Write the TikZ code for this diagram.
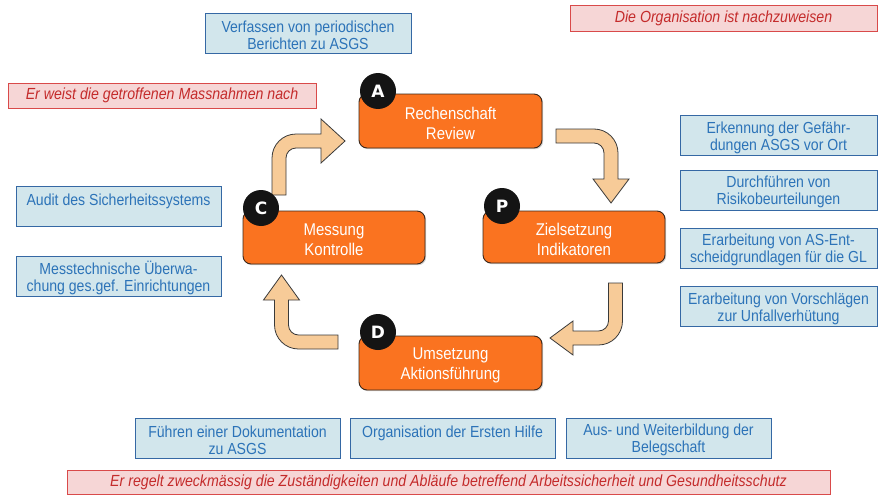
\documentclass[tikz,border=0pt]{standalone}
\usepackage{fontspec}
\setmainfont{Liberation Sans}[FakeStretch=0.88]
\newfontfamily\circfont{DejaVu Sans}[BoldFont={DejaVu Sans Bold}]
\usetikzlibrary{shadows}
\definecolor{orfill}{HTML}{FA7320}
\definecolor{ordraw}{HTML}{3A281C}
\definecolor{arfill}{HTML}{F7CB98}
\definecolor{ardraw}{HTML}{3A3A3A}
\definecolor{blfill}{HTML}{D2E6EC}
\definecolor{bldraw}{HTML}{3568A4}
\definecolor{bltext}{HTML}{2C73B8}
\definecolor{rdfill}{HTML}{F6D6D6}
\definecolor{rddraw}{HTML}{D94A4A}
\definecolor{rdtext}{HTML}{C42B2B}
\tikzset{
  orbox/.style={draw=ordraw, line width=0.9pt, fill=orfill, rounded corners=8pt,
    inner sep=0pt,
    drop shadow={shadow xshift=1.2pt, shadow yshift=-1.2pt, opacity=0.35}},
  ortxt/.style={text=white, align=center, inner sep=0pt, yshift=-2.5pt,
    font=\fontsize{17}{20}\selectfont},
  letcirc/.style={circle, fill=black!92, minimum size=36pt, inner sep=0pt,
    text=white, font=\circfont\bfseries\fontsize{17}{17}\selectfont},
  blbox/.style={draw=bldraw, line width=0.9pt, fill=blfill, inner sep=0pt},
  bltxt/.style={text=bltext, align=center, inner sep=0pt, yshift=-2pt,
    font=\fontsize{16}{17}\selectfont},
  rdbox/.style={draw=rddraw, line width=0.9pt, fill=rdfill, inner sep=0pt,
    text=rdtext, font=\itshape\fontsize{16.1}{17}\selectfont},
  bendarrow/.style={draw=ardraw, line width=0.8pt, fill=arfill, line join=miter},
}
\begin{document}
\begin{tikzpicture}[x=1pt, y=-1pt]
\useasboundingbox (0,0) rectangle (878,495);
\fill[white] (0,0) rectangle (878,495);

% red boxes
\node[rdbox, minimum width=307pt, minimum height=26pt] (rtop) at (723.5,18) {Die Organisation ist nachzuweisen};
\node[rdbox, minimum width=308pt, minimum height=25pt] (rleft) at (162,95.5) {Er weist die getroffenen Massnahmen nach};
\node[rdbox, minimum width=763pt, minimum height=24.5pt] (rbot) at (448.5,482.25) {Er regelt zweckm\"assig die Zust\"andigkeiten und Abl\"aufe betreffend Arbeitssicherheit und Gesundheitsschutz};

% blue boxes
\node[blbox, minimum width=206pt, minimum height=40pt] (b1) at (308,33) {};
\node[bltxt] (t1) at (b1) {Verfassen von periodischen\\Berichten zu ASGS};

\node[blbox, minimum width=197pt, minimum height=40pt] (r1) at (778.5,135.7) {};
\node[bltxt] (tr1) at (r1) {Erkennung der Gef\"ahr-\\dungen ASGS vor Ort};
\node[blbox, minimum width=197pt, minimum height=40pt] (r2) at (778.5,190) {};
\node[bltxt] (tr2) at (r2) {Durchf\"uhren von\\Risikobeurteilungen};
\node[blbox, minimum width=197pt, minimum height=40pt] (r3) at (778.5,248.3) {};
\node[bltxt] (tr3) at (r3) {Erarbeitung von AS-Ent-\\scheidgrundlagen f\"ur die GL};
\node[blbox, minimum width=197pt, minimum height=40pt] (r4) at (778.5,306.7) {};
\node[bltxt] (tr4) at (r4) {Erarbeitung von Vorschl\"agen\\zur Unfallverh\"utung};

\node[blbox, minimum width=205pt, minimum height=40pt] (l1) at (118.5,206) {};
\node[bltxt] (tl1) at (118.5,199) {Audit des Sicherheitssystems};
\node[blbox, minimum width=205pt, minimum height=40pt] (l2) at (118.5,276) {};
\node[bltxt] (tl2) at (l2) {Messtechnische \"Uberwa-\\chung ges.gef. Einrichtungen};

\node[blbox, minimum width=205pt, minimum height=40pt] (u1) at (237.5,438) {};
\node[bltxt] (tu1) at (u1) {F\"uhren einer Dokumentation\\zu ASGS};
\node[blbox, minimum width=205pt, minimum height=40pt] (u2) at (452.5,438) {};
\node[bltxt] (tu2) at (452.5,431) {Organisation der Ersten Hilfe};
\node[blbox, minimum width=205pt, minimum height=40pt] (u3) at (668.5,438) {};
\node[bltxt] (tu3) at (u3) {Aus- und Weiterbildung der\\Belegschaft};

% bent arrows
% C -> A
\draw[bendarrow] (272,195) -- (272,158) .. controls (272,144.75) and (282.75,134) .. (296,134)
  -- (321,134) -- (321,119) -- (345,141) -- (321,163) -- (321,148) -- (296,148)
  .. controls (290.48,148) and (286,152.48) .. (286,158) -- (286,195) -- cycle;
% A -> P
\draw[bendarrow] (556,129) -- (594,129) .. controls (607.25,129) and (618,139.75) .. (618,153)
  -- (618,179) -- (629,179) -- (611,203) -- (593,179) -- (604,179) -- (604,153)
  .. controls (604,147.48) and (599.52,143) .. (594,143) -- (556,143) -- cycle;
% P -> D
\draw[bendarrow] (608.5,283) -- (622.5,283) -- (622.5,321) .. controls (622.5,334.25) and (611.75,345) .. (598.5,345)
  -- (573,345) -- (573,355) -- (550,338) -- (573,321) -- (573,331) -- (598.5,331)
  .. controls (604.02,331) and (608.5,326.52) .. (608.5,321) -- cycle;
% D -> C
\draw[bendarrow] (338,335) -- (338,349) -- (298.5,349) .. controls (285.25,349) and (274.5,338.25) .. (274.5,325)
  -- (274.5,300) -- (263.5,300) -- (281.5,275) -- (299.5,300) -- (288.5,300) -- (288.5,325)
  .. controls (288.5,330.52) and (292.98,335) .. (298.5,335) -- cycle;

% orange boxes
\node[orbox, minimum width=183pt, minimum height=54pt] (a) at (450.5,121) {};
\node[ortxt] (ta) at (a) {Rechenschaft\\Review};
\node[orbox, minimum width=182pt, minimum height=52pt] (p) at (574,237) {};
\node[ortxt] (tp) at (p) {Zielsetzung\\Indikatoren};
\node[orbox, minimum width=182pt, minimum height=53pt] (c) at (334,237.5) {};
\node[ortxt] (tc) at (c) {Messung\\Kontrolle};
\node[orbox, minimum width=183pt, minimum height=54pt] (d) at (450.5,363) {};
\node[ortxt] (td) at (d) {Umsetzung\\Aktionsf\"uhrung};

% letter circles
\node[letcirc] (ca) at (378,91) {A};
\node[letcirc] (cp) at (502,206) {P};
\node[letcirc] (cc) at (261,208) {C};
\node[letcirc] (cd) at (378,332) {D};
\end{tikzpicture}
\end{document}
